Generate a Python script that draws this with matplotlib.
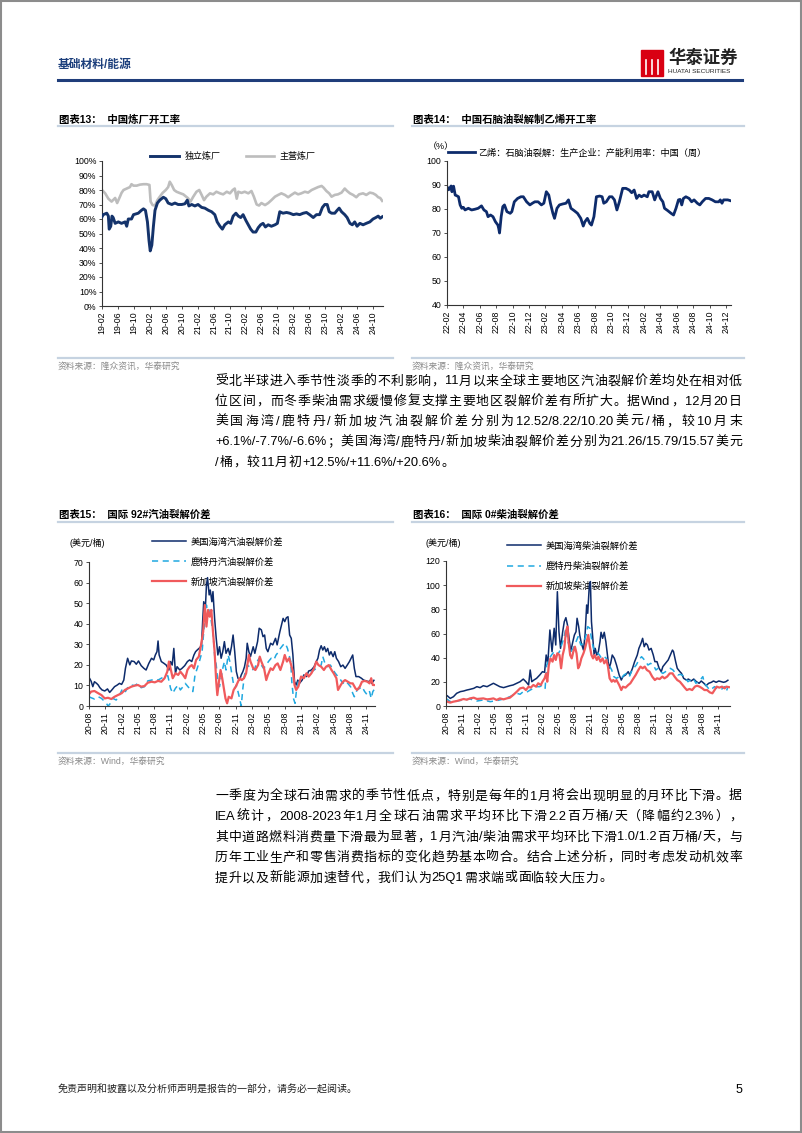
import re
import matplotlib
matplotlib.use("Agg")
import matplotlib.pyplot as plt
from matplotlib.patches import Rectangle
from matplotlib.lines import Line2D

plt.rcParams['font.family'] = ['Liberation Sans', 'Noto Sans CJK SC']
plt.rcParams['axes.unicode_minus'] = False

# ---------------- data (x = months since first tick) ----------------
# 图表13 中国炼厂开工率, months since 2019-02
c13_labels = ['19-02', '19-06', '19-10', '20-02', '20-06', '20-10', '21-02', '21-06', '21-10',
              '22-02', '22-06', '22-10', '23-02', '23-06', '23-10', '24-02', '24-06', '24-10']
c13_independent = [(0, 61.5), (0.3, 63), (1.2, 64), (1.6, 62), (1.8, 53), (2.2, 55), (2.5, 62), (2.8, 61),
    (3.3, 57), (4.1, 58), (4.9, 57), (5.8, 58), (6.2, 55), (6.6, 60), (7.4, 60), (7.9, 63), (9.1, 64),
    (9.9, 66), (10.4, 67), (10.9, 66), (11.4, 58), (11.8, 45), (12.1, 38), (12.5, 42), (12.9, 55),
    (13.3, 66), (13.9, 71), (14.5, 73), (15.4, 75), (16.0, 74), (16.6, 71), (17.5, 70), (18.3, 71),
    (19.1, 70), (20.0, 70), (20.8, 70.5), (21.4, 73), (21.8, 69), (22.5, 70), (23.3, 69), (24.1, 70),
    (25.0, 68), (25.8, 67.5), (26.7, 66), (27.5, 65), (28.3, 63), (28.9, 58), (29.6, 55), (30.2, 53),
    (30.8, 56), (31.7, 58), (32.3, 57), (32.9, 62), (33.6, 64), (34.2, 62), (34.8, 61), (35.4, 63),
    (36.1, 59), (36.7, 56), (37.3, 53), (37.9, 51), (38.6, 51), (39.2, 54), (39.8, 56), (40.4, 57),
    (41.0, 54.5), (41.7, 56), (42.5, 55), (43.4, 56), (44.0, 57), (44.6, 65), (45.4, 64), (46.3, 64.5),
    (47.1, 64), (48.0, 63), (48.8, 63.5), (49.6, 63), (50.5, 64), (51.3, 64.5), (52.1, 63), (53.0, 61),
    (53.8, 63), (54.6, 63), (55.3, 68), (55.9, 70), (56.5, 70), (57.0, 65), (57.6, 64), (58.4, 64),
    (59.0, 66), (59.5, 67.5), (60.1, 65), (60.9, 63), (61.5, 61), (62.2, 57), (62.8, 56), (63.4, 58),
    (64.0, 55), (64.7, 57), (65.5, 56), (66.3, 57), (67.2, 58), (68.0, 60), (68.7, 61), (69.3, 62),
    (69.8, 60.5), (70.3, 61.5)]
c13_main = [(0, 80), (0.8, 77.7), (1.6, 74), (2.4, 72), (3.3, 74.5), (3.8, 71), (4.5, 75.4), (4.9, 78),
    (5.4, 80), (6.2, 81), (7.0, 82), (7.4, 84), (7.9, 83), (8.7, 83), (9.5, 83.7), (10.4, 84), (11.2, 84),
    (11.9, 83.5), (12.2, 72), (12.7, 69.6), (13.3, 69.3), (13.9, 73), (14.4, 75), (15.2, 78), (16.0, 80),
    (16.6, 82), (17.0, 85.7), (17.5, 83.4), (18.1, 80), (18.7, 78.8), (19.6, 77.8), (20.4, 77),
    (21.1, 75.4), (21.6, 74.3), (22.2, 72), (22.9, 75.4), (23.7, 78.8), (24.4, 80), (25.0, 76.6),
    (25.6, 73), (26.2, 75.4), (27.1, 77.7), (27.9, 77), (28.7, 78.8), (29.6, 77.7), (30.4, 77),
    (31.3, 78.8), (32.1, 77.7), (32.8, 80), (33.3, 81), (33.8, 74), (34.2, 78.8), (35.0, 78),
    (35.8, 78.8), (36.7, 77.7), (37.5, 79.3), (38.1, 75.4), (38.8, 70), (39.4, 69.3), (40.0, 71),
    (40.9, 69.6), (41.7, 71), (42.5, 73), (43.4, 75.4), (44.2, 76.6), (45.0, 77.7), (45.9, 76.6),
    (46.7, 75), (47.5, 76.6), (48.4, 78.2), (49.2, 77), (50.0, 77.7), (50.9, 78.8), (51.7, 78.2),
    (52.6, 80), (53.4, 81), (54.2, 82), (55.1, 82.8), (55.6, 81.6), (56.3, 79.3), (57.0, 77.7),
    (57.6, 75.4), (58.4, 76.6), (59.2, 77), (60.1, 78.2), (60.9, 81), (61.5, 79.3), (62.2, 77.7),
    (63.0, 76.6), (63.8, 75), (64.5, 77), (65.5, 77.7), (66.3, 76.6), (67.2, 78.2), (68.0, 77.7),
    (68.7, 76.6), (69.3, 75), (69.8, 74.5), (70.3, 72.5)]

# 图表14 乙烯开工率, months since 2022-02
c14_labels = ['22-02', '22-04', '22-06', '22-08', '22-10', '22-12', '23-02', '23-04', '23-06',
              '23-08', '23-10', '23-12', '24-02', '24-04', '24-06', '24-08', '24-10', '24-12']
c14_ethylene = [(0.0, 89.3), (0.2, 88), (0.5, 89.6), (0.6, 87.2), (0.8, 89.5), (1.0, 85.8), (1.2, 85.5),
    (1.4, 85.1), (1.6, 81.7), (1.8, 80.3), (2.0, 80.7), (2.2, 79.6), (2.6, 80.3), (3.0, 79.6), (3.4, 79.9),
    (3.8, 80.3), (4.2, 81.3), (4.5, 79.6), (4.8, 78.9), (5.0, 76.8), (5.3, 77.5), (5.6, 76.8), (5.9, 74.7),
    (6.2, 73.3), (6.3, 71.9), (6.4, 70.0), (6.6, 76.8), (6.8, 81), (7.0, 81.7), (7.3, 78.9), (7.7, 78.2),
    (7.9, 78.9), (8.2, 83), (8.6, 84.4), (9.0, 85.1), (9.3, 85.1), (9.7, 83), (10.1, 81.7), (10.4, 82.4),
    (10.7, 83), (11.1, 83), (11.5, 81.7), (11.8, 82.4), (12.1, 87.2), (12.4, 85.8), (12.6, 82.4),
    (12.9, 78.2), (13.1, 76.1), (13.4, 80.3), (13.7, 81.7), (14.1, 82.1), (14.5, 82.4), (14.8, 83.8),
    (15.1, 80.3), (15.5, 79.3), (15.9, 78.2), (16.3, 76.1), (16.6, 72.9), (16.8, 74.7), (17.1, 76.1),
    (17.4, 74), (17.6, 73.3), (17.9, 76.8), (18.2, 85.1), (18.6, 85.4), (18.9, 85.1), (19.1, 82.4),
    (19.4, 83), (19.8, 85.1), (20.1, 85.1), (20.4, 83.8), (20.7, 79.6), (21.0, 83), (21.4, 88.6),
    (21.8, 88.6), (22.2, 87.9), (22.5, 86.8), (22.8, 87.9), (23.1, 84.4), (23.4, 85.8), (23.7, 85.1),
    (24.0, 85.8), (24.4, 85.1), (24.6, 87.2), (25.0, 87.2), (25.3, 83.8), (25.7, 87.2), (26.0, 84.4),
    (26.3, 83), (26.5, 80.3), (26.9, 79.3), (27.3, 78.2), (27.6, 77.5), (27.9, 80.3), (28.2, 83.8),
    (28.4, 84), (28.6, 81.7), (28.8, 84.4), (29.1, 85.1), (29.5, 84.4), (29.8, 83), (30.1, 83.8),
    (30.5, 82.4), (30.8, 81.7), (31.1, 83), (31.5, 84.4), (31.9, 84.4), (32.3, 83.8), (32.7, 83),
    (33.1, 83), (33.3, 83.8), (33.5, 82.4), (33.7, 83.8), (34.2, 83.8), (34.5, 83.5)]

# 图表15/16, months since 2020-08
crack_labels = ['20-08', '20-11', '21-02', '21-05', '21-08', '21-11', '22-02', '22-05', '22-08',
                '22-11', '23-02', '23-05', '23-08', '23-11', '24-02', '24-05', '24-08', '24-11']
gas_usgulf = [(0.0, 11), (0.1, 13.5), (0.4, 12), (0.7, 9.4), (1.0, 11.8), (1.4, 11), (1.7, 10.2), (2.0, 8.9),
    (2.4, 7.8), (2.9, 7.3), (3.4, 8.3), (3.8, 6.6), (4.2, 7.8), (4.7, 9.4), (5.2, 10.2), (5.6, 11), (6.0, 10.5),
    (6.4, 12.6), (6.7, 18.3), (7.1, 23.2), (7.5, 20), (7.8, 21.9), (8.3, 21.6), (8.7, 20.3), (9.1, 21.9),
    (9.6, 19.6), (10.1, 18.3), (10.5, 17.5), (11.0, 20.7), (11.5, 23.2), (11.9, 22.4), (12.2, 24.8),
    (12.5, 26.4), (12.7, 31.6), (12.9, 24.8), (13.3, 21.6), (13.8, 20.7), (14.2, 19.9), (14.7, 17.5),
    (15.0, 21.6), (15.3, 19.9), (15.6, 28), (15.9, 15.9), (16.2, 19.1), (16.7, 17.5), (17.1, 18.3),
    (17.6, 19.6), (18.1, 21.6), (18.5, 22.4), (18.9, 21.6), (19.3, 24.8), (19.6, 26.4), (19.9, 27.2),
    (20.4, 28.4), (20.7, 29.7), (20.9, 41), (21.1, 50.7), (21.4, 47.5), (21.6, 58.8), (21.8, 62.4),
    (22.1, 54), (22.3, 56.4), (22.6, 50.7), (22.8, 55.6), (23.1, 42.6), (23.4, 32.9), (23.7, 24.8),
    (24.0, 28.8), (24.3, 23.2), (24.6, 26.4), (24.9, 31.3), (25.2, 25.6), (25.6, 28), (25.9, 24.8),
    (26.2, 28.8), (26.5, 34.5), (26.8, 26.4), (27.1, 16.7), (27.4, 13.5), (27.7, 12.6), (28.0, 15.1),
    (28.3, 16.7), (28.6, 19.1), (28.9, 23.2), (29.1, 30.5), (29.4, 26.4), (29.7, 24), (30.2, 28.8),
    (30.5, 25.6), (31.0, 31.3), (31.3, 37.8), (31.7, 37), (32.0, 33.7), (32.3, 34.5), (32.6, 28),
    (32.9, 26.4), (33.4, 30.5), (33.8, 29.7), (34.3, 32.9), (34.6, 29.7), (35.1, 36.1), (35.4, 39.4),
    (35.7, 42.6), (36.0, 41), (36.3, 42.9), (36.6, 43.4), (36.9, 34.5), (37.2, 32.9), (37.5, 24.8),
    (37.8, 11.8), (38.1, 10.2), (38.4, 12.6), (38.7, 11), (39.2, 12.6), (39.5, 15.1), (40.0, 14.3),
    (40.4, 17), (40.9, 17.5), (41.4, 19.1), (41.8, 21.6), (42.1, 23.2), (42.4, 27.2), (42.7, 29.3),
    (43.0, 27.2), (43.3, 28.8), (43.6, 26.4), (43.9, 28), (44.2, 24.8), (44.5, 26.4), (44.9, 24),
    (45.2, 26.4), (45.5, 23.2), (45.9, 21.6), (46.3, 19.1), (46.7, 19.9), (47.1, 18.3), (47.5, 19.9),
    (47.9, 21.6), (48.2, 23.2), (48.5, 24.8), (48.8, 18.3), (49.1, 14.3), (49.6, 14.3), (50.1, 13.5),
    (50.5, 12.6), (51.0, 12.2), (51.4, 11.8), (51.8, 12.6), (52.0, 11), (52.4, 12.5)]
gas_rotterdam = [(0.0, 4.5), (0.4, 4), (1.0, 3.4), (1.7, 4.5), (2.3, 3.7), (2.9, 2.1), (3.2, 1.3), (3.5, 0),
    (3.8, 0.8), (4.4, 3.7), (5.0, 2.9), (5.6, 5.3), (6.2, 8.6), (6.7, 7), (7.2, 9.4), (7.8, 10.2), (8.4, 9.9),
    (9.0, 11), (9.6, 8.9), (10.2, 9.4), (10.8, 12.2), (11.5, 12.6), (12.1, 13.1), (12.7, 12.6), (13.3, 13.5),
    (13.9, 14.3), (14.5, 14.7), (15.0, 8.6), (15.4, 6.2), (15.9, 8.6), (16.4, 10.2), (16.8, 7.8), (17.3, 9.4),
    (17.7, 11), (18.2, 9.4), (18.7, 7.8), (19.1, 7), (19.5, 15.1), (19.9, 18.3), (20.3, 21.6), (20.8, 26.4),
    (21.1, 36.1), (21.4, 45), (21.6, 49.1), (21.9, 44.2), (22.2, 47.5), (22.5, 41), (22.8, 36.1),
    (23.1, 24.8), (23.4, 19.9), (23.7, 11.8), (24.0, 9.4), (24.3, 13.5), (24.6, 18.3), (24.9, 21.6),
    (25.2, 17.5), (25.6, 24.8), (25.9, 21.6), (26.2, 16.7), (26.5, 11.8), (26.8, 8.6), (27.1, 10.2),
    (27.4, 7), (27.7, 3.7), (28.0, 0), (28.3, 8.6), (28.6, 15.1), (29.1, 19.9), (29.5, 19.1), (30.0, 17.5),
    (30.5, 18.3), (30.9, 21.6), (31.3, 23.2), (31.7, 19.9), (32.1, 18.3), (32.6, 19.9), (33.0, 21.6),
    (33.5, 23.2), (34.0, 22.4), (34.4, 24.8), (34.9, 26.4), (35.2, 28), (35.7, 29.7), (36.1, 30.5),
    (36.5, 28), (36.8, 24.8), (37.1, 21.6), (37.3, 11.8), (37.6, 3.7), (37.9, 1.3), (38.2, 8.6),
    (38.5, 11.8), (39.0, 13.5), (39.5, 14.3), (40.0, 15.1), (40.4, 15.9), (40.9, 16.7), (41.4, 17.5),
    (41.8, 18.3), (42.2, 19.1), (42.7, 19.9), (43.0, 24), (43.4, 20.7), (43.9, 19.1), (44.4, 19.9),
    (44.9, 17.5), (45.3, 15.9), (45.8, 14.3), (46.3, 12.6), (46.7, 11), (47.1, 12.2), (47.6, 11),
    (48.1, 9.4), (48.5, 6.2), (48.8, 4.5), (49.3, 7.8), (49.8, 8.6), (50.2, 9.4), (50.7, 7), (51.2, 5.3),
    (51.6, 7), (51.9, 3.7), (52.2, 7), (52.5, 8.2)]
gas_singapore = [(0.0, 5.7), (0.4, 7), (1.0, 7.3), (1.7, 6.2), (2.3, 5.3), (2.9, 3.7), (3.5, 4), (4.1, 3.4),
    (4.7, 4.5), (5.3, 5.3), (6.0, 6.2), (6.6, 7.8), (7.2, 8.6), (7.8, 9.4), (8.4, 9.9), (9.0, 10.2),
    (9.6, 9.4), (10.2, 9.7), (10.8, 11.3), (11.5, 11.8), (12.1, 11.5), (12.7, 12.2), (13.3, 11.8),
    (13.9, 13.5), (14.4, 16.7), (14.7, 21.6), (15.0, 18.3), (15.4, 13.5), (15.9, 15.9), (16.4, 15.1),
    (16.8, 16.7), (17.3, 15.1), (17.7, 13.5), (18.1, 17.5), (18.5, 19.1), (18.9, 19.9), (19.3, 18.3),
    (19.7, 22.4), (20.2, 24), (20.6, 29.7), (21.0, 36.1), (21.3, 49.1), (21.6, 38.6), (21.9, 46.7),
    (22.2, 43.4), (22.5, 46.7), (22.8, 36.1), (23.1, 26.4), (23.4, 11.8), (23.6, 5.3), (23.9, 11.8),
    (24.2, 17.5), (24.5, 13.5), (24.8, 8.6), (25.1, 3.7), (25.4, 1.3), (25.7, 4.5), (26.2, 3.7),
    (26.6, 7.8), (27.0, 9.4), (27.4, 11.8), (27.7, 13.5), (28.1, 12.6), (28.5, 13.5), (28.9, 15.9),
    (29.4, 24.8), (29.7, 21.6), (30.2, 18.3), (30.6, 17.5), (31.1, 19.9), (31.4, 24), (31.7, 21.6),
    (32.2, 18.3), (32.6, 12.6), (32.9, 15.1), (33.4, 18.3), (33.8, 17.5), (34.3, 19.9), (34.7, 20.7),
    (35.2, 17.5), (35.7, 21.6), (36.0, 24.8), (36.4, 21.6), (36.8, 23.2), (37.1, 20.7), (37.5, 16.7),
    (37.8, 10.2), (38.1, 7.8), (38.5, 9.4), (39.0, 14.3), (39.5, 13.5), (40.0, 15.9), (40.4, 14.3),
    (40.9, 15.9), (41.4, 18.3), (41.8, 21.6), (42.2, 19.9), (42.7, 19.1), (43.2, 17.5), (43.6, 19.1),
    (44.1, 19.9), (44.6, 17.5), (45.0, 15.9), (45.5, 13.5), (45.8, 7.8), (46.3, 10.2), (46.7, 11.8),
    (47.1, 12.6), (47.6, 11.8), (48.1, 11), (48.5, 11), (49.0, 8.6), (49.3, 7.8), (49.8, 9.4), (50.2, 11.8),
    (50.7, 12.2), (51.2, 11.8), (51.6, 11), (51.9, 13.5), (52.2, 10.2), (52.5, 10.2)]

dsl_usgulf = [(0.0, 7.7), (0.2, 8.6), (0.8, 6.3), (1.4, 7.7), (2.0, 10.5), (2.7, 11.9), (3.3, 12.4), (3.9, 13.2),
    (4.5, 13.8), (5.2, 14.6), (5.8, 16), (6.4, 15.2), (7.0, 16.8), (7.7, 16), (8.3, 17.4), (8.9, 18.8),
    (9.5, 17.4), (10.1, 16), (10.8, 15.2), (11.4, 16), (12.0, 16.8), (12.6, 17.4), (13.3, 18.8), (13.9, 20.1),
    (14.5, 22.3), (15.0, 20.1), (15.5, 17.4), (15.8, 29.8), (16.1, 20.1), (16.5, 21.5), (17.0, 22.9),
    (17.6, 25.7), (18.1, 28.4), (18.5, 27.9), (18.8, 42.2), (19.1, 35), (19.5, 62.9), (19.9, 45),
    (20.3, 64.3), (20.6, 50.5), (20.9, 94.6), (21.2, 61.5), (21.5, 47.7), (21.9, 61.5), (22.2, 69.8),
    (22.5, 73.1), (22.8, 67), (23.1, 56), (23.4, 45), (23.8, 53.2), (24.1, 58.8), (24.4, 61.5), (24.6, 72.6),
    (24.9, 65.7), (25.1, 58.8), (25.4, 51.9), (25.8, 46.3), (26.1, 58.8), (26.4, 83.6), (26.6, 76.7),
    (26.9, 100.1), (27.1, 103), (27.3, 69.8), (27.5, 58.8), (27.8, 42.2), (28.0, 47.7), (28.3, 42.2),
    (28.6, 45), (28.9, 53.2), (29.1, 61), (29.4, 56), (29.7, 61), (30.0, 53.2), (30.3, 42.2), (30.6, 31.2),
    (30.9, 35.3), (31.2, 42.2), (31.6, 39.4), (32.0, 33.9), (32.5, 25.7), (32.9, 21.5), (33.2, 24.3),
    (33.7, 25.7), (34.2, 28.4), (34.5, 25.7), (35.0, 31.2), (35.4, 36.7), (35.9, 42.2), (36.2, 47.7),
    (36.6, 51.9), (36.9, 56), (37.2, 49.1), (37.5, 51.9), (37.8, 50.5), (38.1, 46.3), (38.5, 47.7),
    (38.9, 42.2), (39.2, 36.7), (39.6, 36.7), (40.0, 31.2), (40.4, 28.4), (40.7, 32.6), (41.2, 35.3),
    (41.7, 38.1), (42.1, 42.2), (42.5, 46.3), (42.7, 45), (43.1, 36.7), (43.4, 31.2), (43.9, 28.4),
    (44.2, 27), (44.6, 22.9), (45.1, 21.5), (45.5, 22.3), (46.0, 20.7), (46.5, 22.3), (47.0, 20.1),
    (47.5, 18.8), (47.9, 20.7), (48.4, 18.8), (48.8, 16.8), (49.3, 18.8), (49.8, 19.6), (50.2, 20.7),
    (50.7, 19.6), (51.2, 20.7), (51.7, 20.1), (52.1, 19.6), (52.5, 20.1), (52.9, 21.3)]
dsl_rotterdam = [(0.0, 6.3), (0.8, 3.6), (2.0, 4.1), (3.3, 5), (4.5, 5.8), (5.8, 4.1), (7.0, 5), (8.3, 3.6),
    (9.5, 4.4), (10.8, 5.8), (12.0, 7.7), (12.6, 9.1), (13.3, 10.5), (13.9, 9.7), (14.5, 11.9), (15.1, 11.3),
    (15.8, 13.2), (16.4, 14.6), (17.0, 16), (17.6, 16), (18.1, 17.4), (18.6, 14.6), (18.9, 33.9),
    (19.4, 39.4), (19.8, 42.2), (20.3, 45), (20.8, 42.2), (21.3, 45), (21.7, 50.5), (22.1, 56),
    (22.5, 64.3), (22.9, 53.2), (23.4, 45), (23.9, 47.7), (24.4, 53.2), (24.8, 57.4), (25.3, 50.5),
    (25.8, 51.9), (26.3, 58.8), (26.6, 65.7), (27.0, 64.3), (27.4, 53.2), (27.8, 46.3), (28.3, 45),
    (28.8, 42.2), (29.2, 39.4), (29.7, 40.8), (30.1, 39.4), (30.6, 33.9), (31.1, 29.8), (31.5, 24.3),
    (32.0, 22.9), (32.5, 24.3), (32.9, 22.9), (33.4, 25.7), (33.9, 27), (34.4, 24.3), (34.8, 28.4),
    (35.2, 31.2), (35.7, 33.9), (36.2, 38.1), (36.7, 40.8), (37.0, 39.4), (37.5, 36.7), (37.9, 33.9),
    (38.4, 35.3), (38.9, 33.9), (39.4, 29.8), (39.8, 31.2), (40.2, 28.4), (40.7, 27), (41.2, 28.4),
    (41.7, 29.8), (42.1, 31.2), (42.6, 29.8), (43.1, 27), (43.5, 25.7), (44.0, 26.2), (44.5, 25.1),
    (45.0, 22.9), (45.4, 20.1), (45.9, 21.5), (46.4, 22.9), (46.9, 18.8), (47.3, 20.1), (47.7, 21.5),
    (48.2, 24.3), (48.5, 18.8), (49.0, 16), (49.5, 13.2), (50.0, 14.6), (50.4, 16), (50.8, 14.6),
    (51.3, 15.2), (51.8, 14.1), (52.3, 16), (52.6, 11.9), (52.9, 15.8)]
dsl_singapore = [(0.0, 5), (0.2, 3.6), (0.8, 2.8), (1.4, 3.6), (2.0, 4.1), (2.7, 5), (3.3, 5.8), (3.9, 5.2),
    (4.5, 6.3), (5.2, 6.9), (5.8, 5.8), (7.0, 6.3), (7.7, 5.5), (8.3, 5.8), (8.9, 6.3), (9.5, 5), (10.1, 6.3),
    (10.8, 5.5), (11.4, 6.3), (12.0, 6.9), (12.6, 9.1), (13.3, 11.9), (13.9, 14.6), (14.5, 15.2), (15.0, 13.2),
    (15.5, 16), (15.9, 15.2), (16.4, 17.4), (16.9, 16), (17.3, 18.8), (17.8, 17.4), (18.1, 20.1), (18.5, 22.9),
    (18.8, 27), (19.0, 20.1), (19.3, 33.9), (19.6, 39.4), (20.0, 36.7), (20.3, 42.2), (20.6, 38.1),
    (20.9, 43.6), (21.3, 42.2), (21.6, 31.2), (21.9, 42.2), (22.2, 47.7), (22.5, 61.5), (22.8, 65.7),
    (23.0, 53.2), (23.3, 42.2), (23.6, 39.4), (23.9, 45), (24.2, 49.1), (24.5, 43.6), (24.8, 31.2),
    (25.1, 33.9), (25.4, 39.4), (25.8, 43.6), (26.1, 47.7), (26.4, 53.2), (26.7, 58.8), (27.0, 49.1),
    (27.3, 42.2), (27.6, 39.4), (27.9, 42.2), (28.3, 38.1), (28.6, 40.8), (29.0, 36.7), (29.4, 39.4),
    (29.7, 35.3), (30.1, 38.1), (30.4, 32.6), (30.7, 22.9), (31.1, 20.1), (31.4, 21.5), (31.7, 20.1),
    (32.0, 21.5), (32.5, 17.4), (32.9, 13.2), (33.2, 16), (33.7, 15.2), (34.2, 17.4), (34.6, 18.8),
    (35.1, 22.3), (35.6, 25.7), (36.1, 29.8), (36.5, 32.6), (36.9, 31.2), (37.3, 32.6), (37.7, 29.8),
    (38.2, 28.4), (38.7, 24.3), (39.2, 21.5), (39.6, 22.9), (40.1, 22.3), (40.6, 24.3), (41.0, 22.9),
    (41.5, 24.3), (42.0, 27), (42.5, 27), (42.9, 24.3), (43.4, 21.5), (43.9, 20.1), (44.4, 17.4),
    (44.8, 15.2), (45.2, 13.2), (45.7, 14.1), (46.2, 13.2), (46.7, 16), (47.1, 16.8), (47.6, 16),
    (48.1, 14.6), (48.5, 13.2), (49.0, 13.2), (49.5, 11.3), (50.0, 10.5), (50.4, 13.2), (50.8, 16),
    (51.3, 15.2), (51.8, 16), (52.3, 14.6), (52.6, 16), (53.1, 15.6)]

para1 = ['受北半球进入季节性淡季的不利影响，11 月以来全球主要地区汽油裂解价差均处在相对低',
         '位区间，而冬季柴油需求缓慢修复支撑主要地区裂解价差有所扩大。据 Wind，12 月 20 日',
         '美国海湾/鹿特丹/新加坡汽油裂解价差分别为 12.52/8.22/10.20 美元/桶，较 10 月末',
         '+6.1%/-7.7%/-6.6%；美国海湾/鹿特丹/新加坡柴油裂解价差分别为 21.26/15.79/15.57 美元',
         '/桶，较 11 月初+12.5%/+11.6%/+20.6%。']
para2 = ['一季度为全球石油需求的季节性低点，特别是每年的 1 月将会出现明显的月环比下滑。据',
         'IEA 统计，2008-2023 年 1 月全球石油需求平均环比下滑 2.2 百万桶/天（降幅约 2.3%），',
         '其中道路燃料消费量下滑最为显著，1 月汽油/柴油需求平均环比下滑 1.0/1.2 百万桶/天，与',
         '历年工业生产和零售消费指标的变化趋势基本吻合。结合上述分析，同时考虑发动机效率',
         '提升以及新能源加速替代，我们认为 25Q1 需求端或面临较大压力。']

# ---------------- figure ----------------
W, H = 802, 1133
fig = plt.figure(figsize=(W / 100, H / 100), dpi=100)
renderer = fig.canvas.get_renderer()


def fx(x):
    return x / W


def fy(y):
    return 1 - y / H


NAVY = '#0d2b6b'
BLUE13 = '#14336b'
CYAN = '#20a8e0'
RED = '#f05a5c'
GRID_LINE = '#c6d3e1'
TXT_GRAY = '#8a8a8a'


def hline(x0, x1, y, color=GRID_LINE, lw=1.6):
    fig.add_artist(Line2D([fx(x0), fx(x1)], [fy(y), fy(y)], color=color, lw=lw))


def make_axes(left, top, right, bottom):
    ax = fig.add_axes([fx(left), fy(bottom), fx(right) - fx(left), fy(top) - fy(bottom)])
    ax.spines['top'].set_visible(False)
    ax.spines['right'].set_visible(False)
    for s in ['left', 'bottom']:
        ax.spines[s].set_color('#333333')
        ax.spines[s].set_linewidth(0.8)
    ax.tick_params(axis='both', labelsize=6.3, length=2.5, width=0.6, color='#333333', pad=1.5)
    ax.tick_params(axis='x', labelrotation=90)
    ax.patch.set_alpha(0)
    return ax


def unzip(pairs):
    return [p[0] for p in pairs], [p[1] for p in pairs]


# header
fig.text(fx(58), fy(65), '基础材料/能源', fontsize=8.5, fontweight='bold', color='#1c3f7c', va='center')
hline(58, 742, 80, color='#1f3d7a', lw=2.2)
fig.add_artist(Rectangle((fx(641), fy(76)), fx(22), 26 / H, color='#d90012'))
for xx in (646, 652, 658):
    fig.add_artist(Line2D([fx(xx), fx(xx)], [fy(74), fy(60)], color='white', lw=1.2))
fig.text(fx(668), fy(58), '华泰证券', fontsize=12.5, fontweight='bold', color='#222222', va='center',
         family=['Noto Sans CJK SC'])
fig.text(fx(668), fy(71.5), 'HUATAI SECURITIES', fontsize=4.6, color='#222222', va='center')

# titles / rules
fig.text(fx(59), fy(120), '图表13：  中国炼厂开工率', fontsize=7.5, fontweight='bold', va='center')
fig.text(fx(413), fy(120), '图表14：  中国石脑油裂解制乙烯开工率', fontsize=7.5, fontweight='bold', va='center')
fig.text(fx(59), fy(515), '图表15：  国际 92#汽油裂解价差', fontsize=7.5, fontweight='bold', va='center')
fig.text(fx(413), fy(515), '图表16：  国际 0#柴油裂解价差', fontsize=7.5, fontweight='bold', va='center')
for y in (126, 358, 522, 753):
    hline(58, 393, y)
    hline(412, 744, y)
fig.text(fx(58), fy(366), '资料来源：隆众资讯，华泰研究', fontsize=6.3, color=TXT_GRAY, va='center')
fig.text(fx(412), fy(366), '资料来源：隆众资讯，华泰研究', fontsize=6.3, color=TXT_GRAY, va='center')
fig.text(fx(58), fy(761), '资料来源：Wind，华泰研究', fontsize=6.3, color=TXT_GRAY, va='center')
fig.text(fx(412), fy(761), '资料来源：Wind，华泰研究', fontsize=6.3, color=TXT_GRAY, va='center')

# ---- chart 13
ax = make_axes(102, 161, 383, 306)
x, y = unzip(c13_main)
l2, = ax.plot(x, y, color='#bdbdbd', lw=1.9, label='主营炼厂', zorder=2)
x, y = unzip(c13_independent)
l1, = ax.plot(x, y, color=BLUE13, lw=2.1, label='独立炼厂', zorder=3)
ax.set_xlim(0, 70.5)
ax.set_ylim(0, 100)
ax.set_yticks(range(0, 101, 10))
ax.set_yticklabels([f'{v}%' for v in range(0, 101, 10)])
ax.set_xticks(range(0, 70, 4))
ax.set_xticklabels(c13_labels)
ax.legend(handles=[l1, l2], loc='center left', bbox_to_anchor=((150 - 102) / 281, 1.03), ncol=2,
          frameon=False, fontsize=6.5, handlelength=3.2, handletextpad=0.6, columnspacing=2.8,
          borderpad=0, borderaxespad=0)

# ---- chart 14
ax = make_axes(447, 161, 731, 305)
x, y = unzip(c14_ethylene)
l1, = ax.plot(x, y, color=NAVY, lw=2.0, label='乙烯：石脑油裂解：生产企业：产能利用率：中国（周）')
ax.set_xlim(0, 34.6)
ax.set_ylim(40, 100)
ax.set_yticks(range(40, 101, 10))
ax.set_xticks(range(0, 35, 2))
ax.set_xticklabels(c14_labels)
ax.legend(handles=[l1], loc='center left', bbox_to_anchor=(0.003, 1.056), frameon=False, fontsize=6.6,
          handlelength=3.0, handletextpad=0.3, borderpad=0, borderaxespad=0)
fig.text(fx(428), fy(147), '（%）', fontsize=6.5, va='center')


def crack_chart(left, top, right, bottom, ymax, ystep, xmax, series, names, leg_x, leg_y, spacing, unit_x):
    ax = make_axes(left, top, right, bottom)
    styles = [dict(color=NAVY, lw=1.1), dict(color=CYAN, lw=1.1, ls=(0, (4, 3))), dict(color=RED, lw=1.6)]
    handles = []
    for pairs, name, st in zip(series, names, styles):
        xx, yy = unzip(pairs)
        h, = ax.plot(xx, yy, label=name, **st)
        handles.append(h)
    ax.set_xlim(0, xmax)
    ax.set_ylim(0, ymax)
    ax.set_yticks(range(0, ymax + 1, ystep))
    ax.set_xticks(range(0, 52, 3))
    ax.set_xticklabels(crack_labels)
    leg = ax.legend(handles=handles, loc='upper left', bbox_to_anchor=(leg_x, leg_y), frameon=False,
                    fontsize=6.7, handlelength=3.7, handletextpad=0.5, labelspacing=spacing,
                    borderpad=0, borderaxespad=0)
    leg.set_zorder(1)
    fig.text(fx(unit_x), fy(543), '(美元/桶)', fontsize=6.5, va='center')
    return ax


crack_chart(89, 562, 375, 706, 70, 10, 52.6, [gas_usgulf, gas_rotterdam, gas_singapore],
            ['美国海湾汽油裂解价差', '鹿特丹汽油裂解价差', '新加坡汽油裂解价差'],
            (152 - 89) / 286, 1.17, 1.15, 70)
crack_chart(446, 561, 730, 706, 120, 20, 53.3, [dsl_usgulf, dsl_rotterdam, dsl_singapore],
            ['美国海湾柴油裂解价差', '鹿特丹柴油裂解价差', '新加坡柴油裂解价差'],
            (507 - 446) / 284, 1.135, 1.2, 425)

# ---- body text, justified line by line
TOKEN = re.compile(r'[!-~]+|[^\x00-\x7f]')


def paragraph(lines, x0, x1, y0, step, size=9.3):
    gap = 0
    for i, line in enumerate(lines):
        yb = y0 + i * step
        toks = TOKEN.findall(line)
        arts = [fig.text(0, fy(yb), tk, fontsize=size, va='baseline') for tk in toks]
        ws = [a.get_window_extent(renderer).width for a in arts]
        if i < len(lines) - 1:
            gap = (x1 - x0 - sum(ws)) / (len(toks) - 1)
        xpos = x0
        for a, w in zip(arts, ws):
            a.set_x(fx(xpos))
            xpos += w + gap


paragraph(para1, 215, 742, 384.5, 20.3)
paragraph(para2, 215, 742, 799.5, 20.5)

# footer and page frame
fig.text(fx(58), fy(1090), '免责声明和披露以及分析师声明是报告的一部分，请务必一起阅读。', fontsize=7.2,
         va='center', color='#222222')
fig.text(fx(742), fy(1090), '5', fontsize=9, ha='right', va='center')
fig.add_artist(Rectangle((0.001, 0.001), 0.998, 0.998, transform=fig.transFigure, fill=False,
                         ec='#8c8c8c', lw=1.5))

fig.savefig('out.png', dpi=100)
